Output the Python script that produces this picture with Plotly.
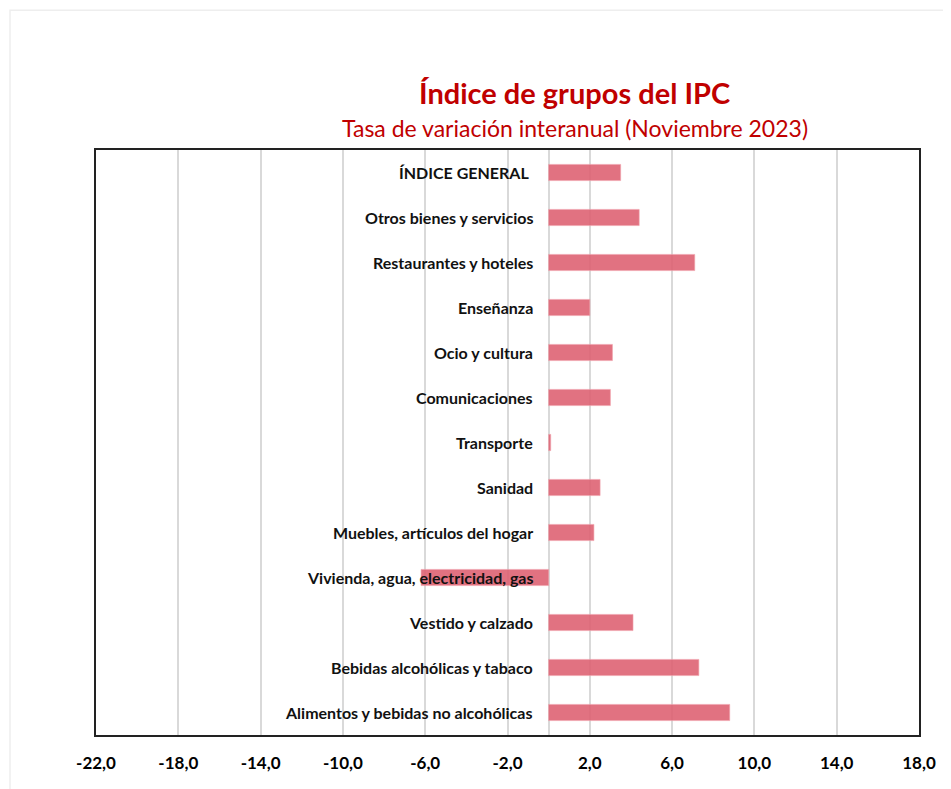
import plotly.graph_objects as go

# Groups listed top to bottom as in the chart
grupos = ['ÍNDICE GENERAL', 'Otros bienes y servicios', 'Restaurantes y hoteles',
          'Enseñanza', 'Ocio y cultura', 'Comunicaciones', 'Transporte', 'Sanidad',
          'Muebles, artículos del hogar', 'Vivienda, agua, electricidad, gas',
          'Vestido y calzado', 'Bebidas alcohólicas y tabaco',
          'Alimentos y bebidas no alcohólicas']
tasa = [3.5, 4.4, 7.1, 2.0, 3.1, 3.0, 0.1, 2.5, 2.2, -6.2, 4.1, 7.3, 8.8]
ticks_x = [-22, -18, -14, -10, -6, -2, 2, 6, 10, 14, 18]

FONT = 'Lato'
RED = '#C00000'

# Spanish style tick labels with a plain hyphen for the minus sign
tick_text = ['<b>' + f'{v:.1f}'.replace('.', ',') + '</b>' for v in ticks_x]

fig = go.Figure()
fig.add_trace(go.Bar(x=tasa, y=grupos, orientation='h',
                     marker=dict(color='rgba(221,95,112,0.88)',
                                 line=dict(color='rgba(240,160,170,0.6)', width=1)),
                     hoverinfo='x+y'))

# Category labels sit inside the plot, right-aligned just left of zero
for g in grupos:
    fig.add_annotation(x=0, y=g, xref='x', yref='y', text='<b>' + g + '</b>',
                       showarrow=False, xanchor='right',
                       xshift=-18 if g == 'ÍNDICE GENERAL' else -14,
                       font=dict(family=FONT, size=16, color='#111111'))

# Titles
fig.add_annotation(x=0.582, y=1.099, xref='paper', yref='paper', yanchor='middle',
                   text='<b>Índice de grupos del IPC</b>', showarrow=False,
                   font=dict(family=FONT, size=29, color=RED))
fig.add_annotation(x=0.582, y=1.0376, xref='paper', yref='paper', yanchor='middle',
                   text='Tasa de variación interanual (Noviembre 2023)', showarrow=False,
                   font=dict(family=FONT, size=23, color=RED))

# Faint outer chart frame
fig.add_shape(type='rect', xref='paper', yref='paper', x0=-0.1045, x1=1.2,
              y0=-0.3, y1=1.239, line=dict(color='#eeeeee', width=1.5), layer='below')

# the page body adds an 8px offset, so the figure is sized to fit the window
fig.update_layout(
    width=943, height=781,
    margin=dict(l=88, r=32, t=142, b=54),
    paper_bgcolor='white', plot_bgcolor='white',
    showlegend=False,
    bargap=0.64,
    font=dict(family=FONT),
)
fig.update_xaxes(range=[-22, 18], tickvals=ticks_x, ticktext=tick_text,
                 showgrid=True, gridcolor='#d9d9d9', gridwidth=1.5,
                 zeroline=True, zerolinecolor='#d9d9d9', zerolinewidth=1.5,
                 showline=True, linecolor='#222222', linewidth=2, mirror=True,
                 ticks='', ticklabelstandoff=12,
                 tickfont=dict(family=FONT, size=17, color='black'))
fig.update_yaxes(categoryorder='array', categoryarray=grupos, autorange='reversed',
                 showticklabels=False, showgrid=False, ticks='',
                 showline=True, linecolor='#222222', linewidth=2, mirror=True)

fig.write_html('out.html')
